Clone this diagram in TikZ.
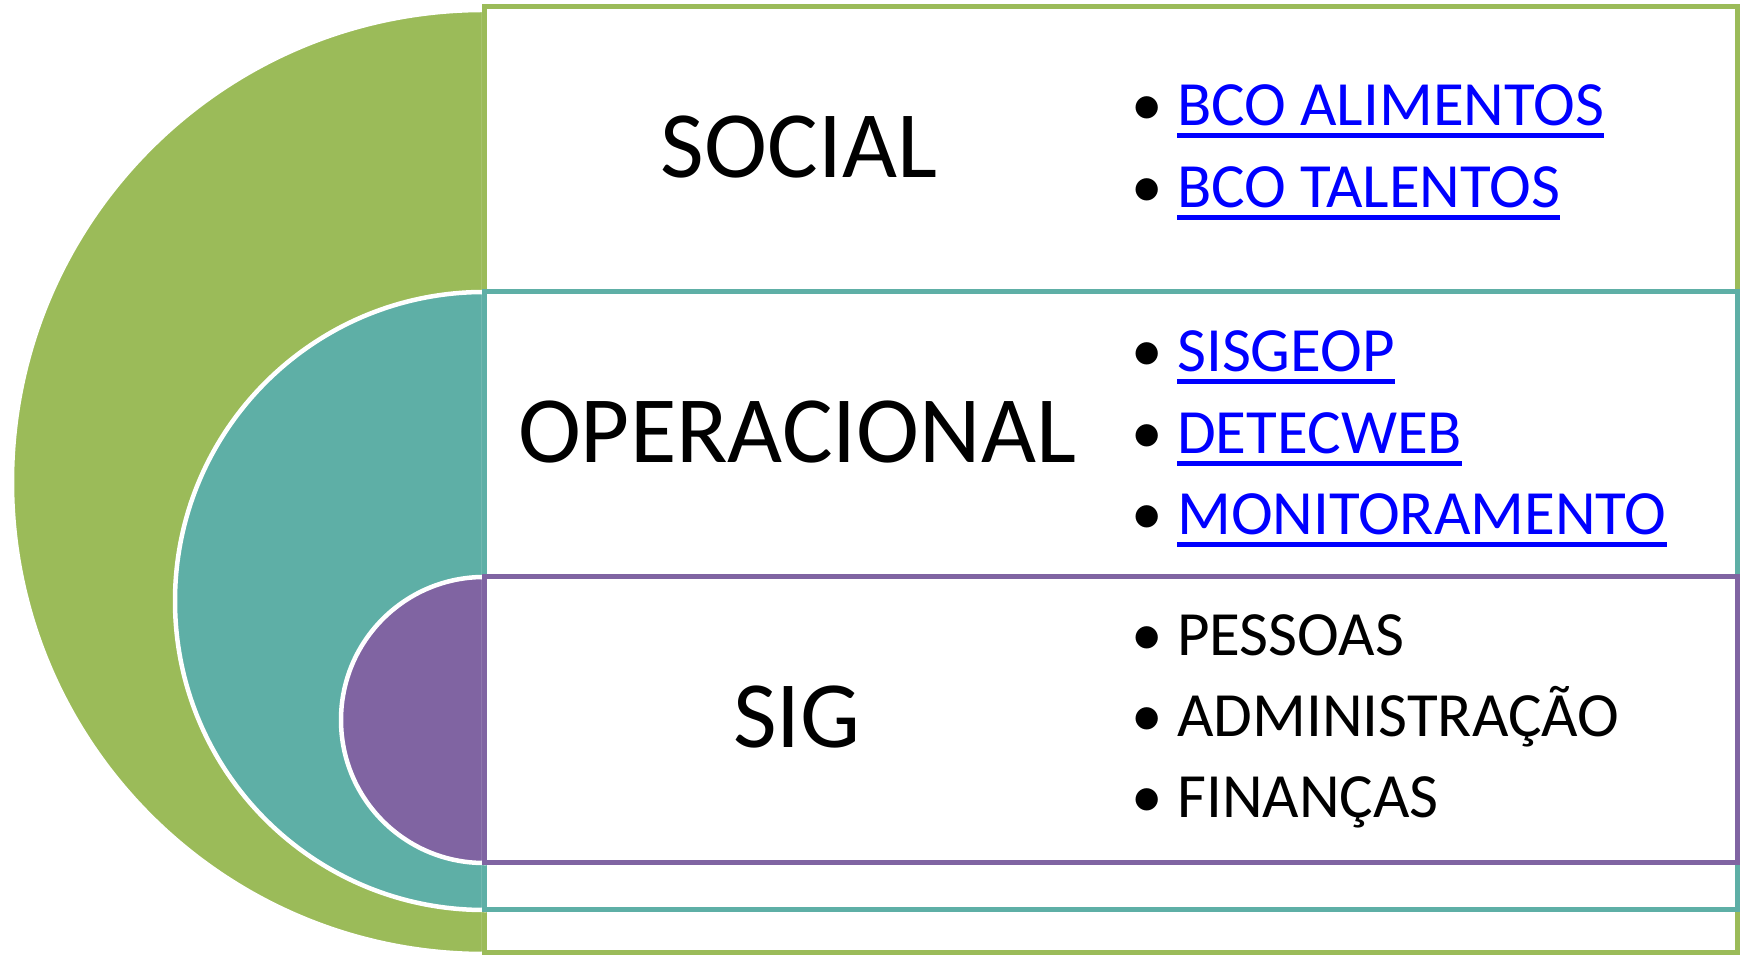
\documentclass[tikz,border=0pt]{standalone}
\usepackage{fontspec}
\setmainfont{Carlito}
\definecolor{grn}{HTML}{9BBB59}
\definecolor{tel}{HTML}{5EAFA6}
\definecolor{prp}{HTML}{8064A2}
\definecolor{lnk}{HTML}{0000FF}
% underlined link text
\newcommand\ulnk[1]{\setbox0=\hbox{#1}\rlap{\rule[-12pt]{\wd0}{5pt}}\box0}
\newcommand\bul{\llap{\color{black}\textbullet\hspace{14pt}}}
\tikzset{
  disc/.style={fill=#1, draw=white, line width=4.5pt},
  box/.style={draw=#1, line width=5pt},
  title/.style={anchor=base, inner sep=0pt, font=\fontsize{95}{95}\selectfont},
  item/.style={anchor=base west, inner sep=0pt, font=\fontsize{63}{63}\selectfont},
  link/.style={item, text=lnk}
}
\begin{document}
\begin{tikzpicture}[x=1pt,y=1pt]
\useasboundingbox (0,0) rectangle (1745,955);
% social
\filldraw[disc=grn] (484,945) arc[start angle=90, end angle=270, radius=472] -- cycle;
\draw[box=grn] (484,948) rectangle (1737,2);
% operacional
\filldraw[disc=tel] (484,663) arc[start angle=90, end angle=270, radius=309] -- cycle;
\draw[box=tel] (484,663) rectangle (1737,45);
% sig
\filldraw[disc=prp] (484,378) arc[start angle=90, end angle=270, radius=143] -- cycle;
\draw[box=prp] (484,378) rectangle (1737,92);

\node[title] (social) at (799,777) {SOCIAL};
\node[title] (oper) at (797,492) {OPERACIONAL};
\node[title] (sig) at (797,207) {SIG};

\node[link] (alim) at (1177,829) {\bul\ulnk{BCO ALIMENTOS}};
\node[link] (tal) at (1177,747) {\bul\ulnk{BCO TALENTOS}};
\node[link] (sisg) at (1177,583) {\bul\ulnk{SISGEOP}};
\node[link] (detec) at (1177,501) {\bul\ulnk{DETECWEB}};
\node[link] (monit) at (1177,420) {\bul\ulnk{MONITORAMENTO}};
\node[item] (pess) at (1177,299) {\bul PESSOAS};
\node[item] (adm) at (1177,218) {\bul ADMINISTRAÇÃO};
\node[item] (fin) at (1177,137) {\bul FINANÇAS};
\end{tikzpicture}
\end{document}
